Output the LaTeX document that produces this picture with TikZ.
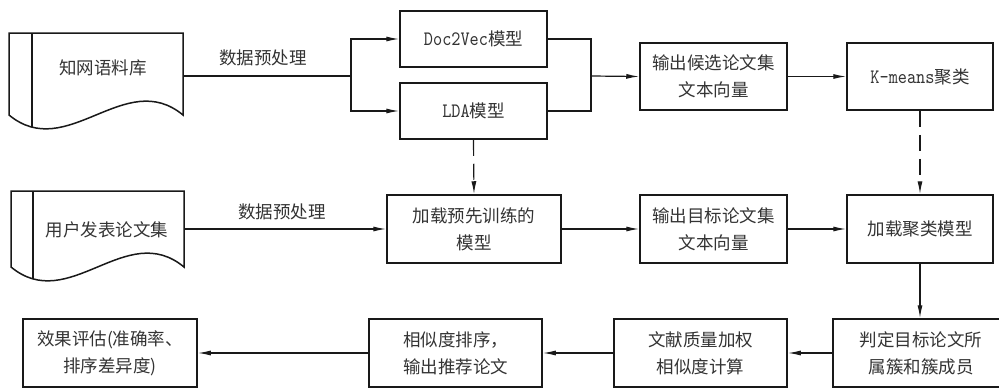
\documentclass[tikz,border=0pt]{standalone}
\usepackage{fontspec}
\setmainfont{Noto Sans CJK SC}
\newfontfamily\latmono[FakeStretch=0.85]{lmmono10-regular.otf}
\usetikzlibrary{arrows.meta}
\tikzset{
  box/.style={draw=black!90, line width=1.5pt, align=center, inner sep=0pt, minimum height=67pt},
  docline/.style={draw=black!90, line width=1.5pt},
  conn/.style={draw=black!90, line width=1.2pt},
  arr/.style={conn, -{Latex[length=13pt,width=5pt]}},
  darr/.style={arr, dash pattern=on 16pt off 8pt},
  plain/.style={inner sep=0pt},
}
\newcommand{\lat}[1]{{\latmono\fontsize{20.5pt}{27pt}\selectfont #1}}
\begin{document}
\begin{tikzpicture}[x=1pt, y=-1pt, font=\fontsize{17.5pt}{27pt}\selectfont, text=black!80]
\useasboundingbox (0,0) rectangle (999,388);

% document shapes
\draw[docline] (9,33) -- (183,33) -- (183,115) .. controls (125,67) and (67,163) .. (9,115) -- cycle;
\draw[docline] (32,33) -- (32,127);
\node[plain, minimum width=174pt, minimum height=2pt] (doc1) at (96,76) {};
\node[plain] (doc1t) at (103,68) {知网语料库};

\draw[docline] (11,191) -- (184,191) -- (184,267) .. controls (126,219) and (69,315) .. (11,267) -- cycle;
\draw[docline] (33,191) -- (33,279);
\node[plain, minimum width=173pt, minimum height=2pt] (doc2) at (97.5,229) {};
\node[plain] (doc2t) at (107,230) {用户发表论文集};

% boxes row 1
\node[box, minimum width=147pt, minimum height=56pt] (d2v) at (473.5,39) {\lat{Doc2Vec}模型};
\node[box, minimum width=147pt, minimum height=56pt] (lda) at (473.5,111) {\lat{LDA}模型};
\node[box, minimum width=147pt] (cand) at (713.5,76.5) {输出候选论文集\\文本向量};
\node[box, minimum width=146pt] (km) at (920,76.5) {\lat{K-means}聚类};

% boxes row 2
\node[box, minimum width=174pt, minimum height=68pt] (pre) at (474,229) {加载预先训练的\\模型};
\node[box, minimum width=147pt, minimum height=68pt] (tgt) at (713.5,229) {输出目标论文集\\文本向量};
\node[box, minimum width=146pt, minimum height=68pt] (lcm) at (920,229) {加载聚类模型};

% boxes row 3
\node[box, minimum width=176pt, minimum height=68pt] (judge) at (921,353) {判定目标论文所\\属簇和簇成员};
\node[box, minimum width=173pt, minimum height=68pt] (wq) at (700.5,353) {文献质量加权\\相似度计算};
\node[box, minimum width=173pt, minimum height=68pt] (rank) at (455.5,353) {相似度排序，\\输出推荐论文};
\node[box, minimum width=174pt, minimum height=68pt] (eval) at (110,353) {效果评估(准确率、\\排序差异度)};

% labels
\node[plain] (lab1) at (263,58) {数据预处理};
\node[plain] (lab2) at (282,212) {数据预处理};

% connectors row 1
\coordinate (br1) at (351,76);
\coordinate (mg) at (591,76);
\draw[conn] (doc1.east) -- (br1);
\draw[arr] (br1) |- (d2v.west);
\draw[arr] (br1) |- (lda.west);
\draw[conn] (d2v.east) -| (mg);
\draw[conn] (lda.east) -| (mg);
\draw[arr] (mg) -- (cand.west);
\draw[arr] (cand.east) -- (km.west);

% dashed
\draw[darr] (lda.south) -- (pre.north);
\draw[darr] (km.south) -- (lcm.north);

% row 2
\draw[arr] (doc2.east) -- (pre.west);
\draw[arr] (pre.east) -- (tgt.west);
\draw[arr] (tgt.east) -- (lcm.west);
\draw[arr] (lcm.south) -- (lcm.south |- judge.north);

% row 3
\draw[arr] (judge.west) -- (wq.east);
\draw[arr] (wq.west) -- (rank.east);
\draw[arr] (rank.west) -- (eval.east);
\end{tikzpicture}
\end{document}
